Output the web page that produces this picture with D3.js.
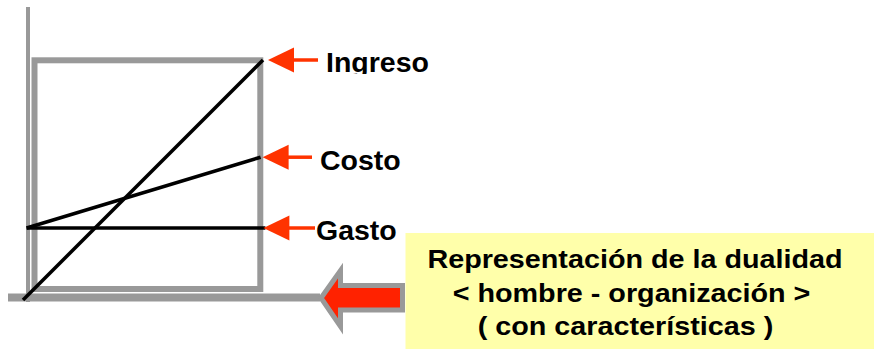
<!DOCTYPE html>
<html>
<head>
<meta charset="utf-8">
<script src="https://cdn.jsdelivr.net/npm/d3@7"></script>
<style>
  html, body { margin: 0; padding: 0; background: #fff; }
  svg { display: block; font-family: "Liberation Sans", Arial, sans-serif; font-weight: bold; }
</style>
</head>
<body>
<div class="canvas"></div>
<script>
// Data
const seriesNames = ['Ingreso', 'Costo', 'Gasto'];
const ingresoX = [0, 10];
const ingresoY = [0, 100];
const costoX = [0.15, 9.9];
const costoY = [30, 59.5];
const gastoX = [0.15, 10.1];
const gastoY = [30, 30];
const boxLines = [
    'Representación de la dualidad',
    '< hombre - organización >',
    '( con características )'
];

// Graph set up
const svgWidth = 874;
const svgHeight = 349;
const gray = '#999999';
const red = '#ff3300';

const svg = d3.select('.canvas')
    .append('svg')
    .attr('width', svgWidth)
    .attr('height', svgHeight);

// Scales
const x = d3.scaleLinear().domain([0, 10]).range([23, 263]);
const y = d3.scaleLinear().domain([0, 100]).range([300, 60]);

// Axes (plain gray bars, no ticks)
const xAxis = d3.axisBottom(x).tickValues([]).tickSizeOuter(0);
const yAxis = d3.axisLeft(y).tickValues([]).tickSizeOuter(0);

svg.append('g')
    .attr('transform', 'translate(0,297.5)')
    .call(xAxis)
    .call(g => g.select('.domain')
        .attr('d', 'M8,0H320')
        .attr('stroke', gray)
        .attr('stroke-width', 8));

svg.append('g')
    .attr('transform', 'translate(28,0)')
    .call(yAxis)
    .call(g => g.select('.domain')
        .attr('d', 'M0,7V302')
        .attr('stroke', gray)
        .attr('stroke-width', 4));

// Frame box
svg.append('rect')
    .attr('x', 34.5)
    .attr('y', 60.3)
    .attr('width', 225.8)
    .attr('height', 228.7)
    .attr('fill', 'none')
    .attr('stroke', gray)
    .attr('stroke-width', 6);

// Lines
const series = [
    {name: seriesNames[0], xs: ingresoX, ys: ingresoY, tipDx: 5, shaftEnd: 318, labelX: 326, labelDy: 12, clip: true},
    {name: seriesNames[1], xs: costoX, ys: costoY, tipDx: 2, shaftEnd: 312, labelX: 320, labelDy: 12.5},
    {name: seriesNames[2], xs: gastoX, ys: gastoY, tipDx: -2, shaftEnd: 315, labelX: 316, labelDy: 12}
];

const line = d3.line()
    .x(d => x(d[0]))
    .y(d => y(d[1]));

svg.selectAll('path.series')
    .data(series)
    .enter()
    .append('path')
        .attr('class', 'series')
        .attr('d', d => line(d3.zip(d.xs, d.ys)))
        .attr('fill', 'none')
        .attr('stroke', '#000')
        .attr('stroke-width', 3.5);

// Small red arrows and labels
const defs = svg.append('defs');
defs.append('clipPath')
    .attr('id', 'clipIngreso')
    .append('rect')
        .attr('x', 300).attr('y', 0)
        .attr('width', 200).attr('height', 74);

series.forEach(s => {
    const tx = x(s.xs[1]) + s.tipDx;
    const ty = y(s.ys[1]);

    svg.append('line')
        .attr('x1', tx + 20)
        .attr('x2', s.shaftEnd)
        .attr('y1', ty)
        .attr('y2', ty)
        .attr('stroke', red)
        .attr('stroke-width', 3.5);

    svg.append('path')
        .attr('d', `M${tx},${ty}L${tx + 26},${ty - 12.5}L${tx + 26},${ty + 12.5}Z`)
        .attr('fill', red);

    svg.append('text')
        .attr('x', s.labelX)
        .attr('y', ty + s.labelDy)
        .attr('font-size', 28.5)
        .attr('fill', '#000')
        .attr('clip-path', s.clip ? 'url(#clipIngreso)' : null)
        .text(s.name);
});

// Big gray-outlined arrow
svg.append('path')
    .attr('d', 'M321,298L340.5,270.5V285.5H402.5V310H340.5V326.5Z')
    .attr('fill', '#ff2200')
    .attr('stroke', gray)
    .attr('stroke-width', 5)
    .attr('stroke-linejoin', 'miter');

// Yellow note
svg.append('rect')
    .attr('x', 405.5)
    .attr('y', 233)
    .attr('width', svgWidth - 405.5)
    .attr('height', svgHeight - 233)
    .attr('fill', '#ffffaa');

const lineCenters = [635, 631.5, 625.5];
const noteText = svg.append('g');
boxLines.forEach((t, i) => {
    noteText.append('text')
        .attr('transform', `translate(${lineCenters[i]},${268 + i * 33.5}) scale(1.15,1.03)`)
        .attr('text-anchor', 'middle')
        .attr('font-size', 25)
        .attr('fill', '#000')
        .text(t);
});
</script>
</body>
</html>
